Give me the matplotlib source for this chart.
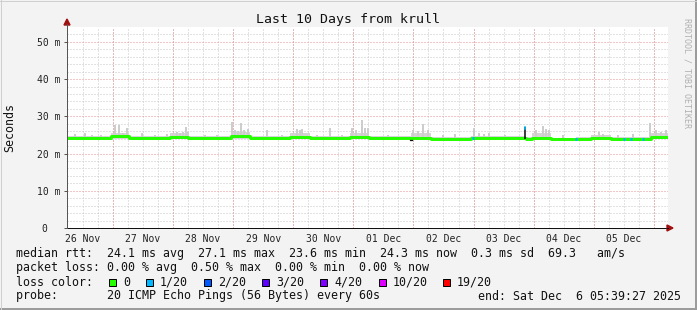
import matplotlib
matplotlib.use('Agg')
import matplotlib.pyplot as plt
from matplotlib.patches import Rectangle, Polygon
import numpy as np

# ---------------- data ----------------
# time axis: hours since start (Wed Nov 26 05:39:27), 10 days = 240 h
day_labels = ["26 Nov", "27 Nov", "28 Nov", "29 Nov", "30 Nov",
              "01 Dec", "02 Dec", "03 Dec", "04 Dec", "05 Dec"]
first_midnight_h = 18.34          # Nov 27 00:00 relative to start
total_hours = 240

# median rtt (ms), step segments: start hour and level
seg_start_h = [0, 1.2, 17.6, 24.8, 41.2, 48.4, 65.6, 73.2, 89.2, 97.2, 113.2,
               120.4, 137.2, 145.2, 161.2, 183.2, 185.6, 193.2, 203.2, 209.2,
               217.2, 233.2]
seg_median_ms = [24.3, 24.1, 24.6, 24.1, 24.4, 24.1, 24.6, 24.1, 24.5, 24.1, 24.5,
                 24.1, 24.3, 24.0, 24.1, 23.9, 24.3, 23.8, 23.9, 24.2,
                 23.9, 24.4]
# smoke band (ms) per segment
seg_smoke_lo = [23.9, 23.6, 24.0, 23.6, 23.9, 23.6, 24.0, 23.6, 24.0, 23.6, 24.0,
                23.6, 23.9, 23.5, 23.6, 23.4, 23.8, 23.3, 23.4, 23.7,
                23.4, 23.9]
seg_smoke_hi = [24.8, 24.6, 25.6, 24.6, 25.6, 24.6, 25.8, 24.6, 25.4, 24.6, 25.6,
                24.6, 25.5, 24.5, 24.7, 24.4, 25.6, 24.3, 24.4, 24.9,
                24.5, 25.4]

# smoke spikes (hour, top ms)
spike_h = [3.0, 7.2, 10.0, 13.6, 19.2, 20.8, 22.4, 24.0, 30.0, 35.0, 40.0,
           44.0, 45.2, 46.4, 47.6, 48.4, 55.0, 60.0, 66.0, 67.2, 68.4, 69.6,
           70.8, 72.4, 80.0, 86.0, 92.0, 93.2, 94.0, 100.0, 105.2, 110.0,
           114.0, 115.6, 118.0, 119.2, 120.0, 128.0, 138.0, 140.0, 142.0,
           144.0, 150.0, 155.0, 162.4, 164.4, 166.4, 168.4, 175.0, 187.2,
           190.0, 191.2, 192.4, 198.0, 212.4, 214.0, 220.0, 226.0, 232.8,
           235.2, 237.2, 239.2]
spike_top = [25.2, 25.4, 25.0, 25.0, 27.7, 27.7, 25.6, 26.8, 25.5, 25.0, 25.3,
             25.9, 25.6, 25.9, 27.2, 25.8, 25.0, 25.1, 28.6, 26.3, 26.0, 28.2,
             26.3, 26.6, 26.2, 25.0, 26.6, 26.2, 26.6, 25.0, 27.0, 25.1,
             26.8, 26.4, 29.0, 26.8, 26.8, 25.0, 26.3, 26.0, 27.9,
             26.3, 25.0, 25.2, 26.9, 25.5, 25.3, 25.5, 25.0, 26.3,
             27.4, 26.5, 26.3, 25.0, 25.9, 25.3, 25.1, 25.2, 28.1,
             26.3, 25.8, 26.3]

# loss-coloured samples (1/20) on the median line
loss_h = [162.0, 203.2, 222.4, 225.2, 230.0]
loss_ms = [24.1, 23.8, 23.9, 23.9, 23.9]
# outlier: median jump (black) at ~03 Dec afternoon
outlier_h = 183.0
outlier_lo, outlier_hi = 24.0, 27.1
dip_h, dip_ms = 137.2, 23.6

y_ticks = [0, 10, 20, 30, 40, 50]
y_tick_labels = ["0\u00a0\u00a0", "10 m", "20 m", "30 m", "40 m", "50 m"]

loss_labels = ["0", "1/20", "2/20", "3/20", "4/20", "10/20", "19/20"]
loss_colors = ["#26ff00", "#00b8ff", "#0059ff", "#5e00ff", "#7e00ff", "#dd00ff", "#ff0000"]

title = "Last 10 Days from krull"
line_rtt = "median rtt:  24.1 ms avg  27.1 ms max  23.6 ms min  24.3 ms now  0.3 ms sd  69.3   am/s"
line_loss = "packet loss: 0.00 % avg  0.50 % max  0.00 % min  0.00 % now"
line_probe = "probe:       20 ICMP Echo Pings (56 Bytes) every 60s"
line_end = "end: Sat Dec  6 05:39:27 2025"

# ---------------- figure ----------------
W, H, DPI = 697, 310, 100
MONO = "DejaVu Sans Mono"
fig = plt.figure(figsize=(W / DPI, H / DPI), dpi=DPI, facecolor="#f3f3f3")
X0, X1, YB, YT = 67, 668, 228, 27


def fx(x):
    return x / W


def fy(y):
    return 1 - y / H


ax = fig.add_axes([fx(X0), fy(YB), (X1 - X0) / W, (YB - YT) / H])
ax.set_facecolor("white")
ax.set_xlim(0, total_hours)
ax.set_ylim(0, 54)

px = 72 / DPI  # one pixel in points
DOT = (0, (1, 2))
GKW = dict(lw=px, ls=DOT, snap=True, antialiased=True)

# grid
mids = np.arange(first_midnight_h, total_hours, 24)
sixes = np.arange(first_midnight_h - 12, total_hours, 6)
for h in sixes:
    if h > 0:
        ax.axvline(h, color="#c6c6c6", zorder=1, **GKW)
for v in np.arange(2, 54, 2):
    if v % 10:
        ax.axhline(v, color="#c6c6c6", zorder=1, **GKW)
for h in mids:
    ax.axvline(h, color="#e89090", zorder=1.5, **GKW)
for v in y_ticks[1:]:
    ax.axhline(v, color="#e89090", zorder=1.5, **GKW)

# smoke band
edges = seg_start_h + [total_hours]
for i in range(len(seg_start_h)):
    ax.fill_between([edges[i], edges[i + 1]], seg_smoke_lo[i], seg_smoke_hi[i],
                    color="#d4d4d4", lw=0, zorder=2)
# smoke spikes
base = np.interp(spike_h, seg_start_h, seg_median_ms)
ax.vlines(spike_h, base, spike_top, color="#cdcdcd", lw=2 * px, zorder=2.2)

# median line
sx = seg_start_h + [total_hours]
sy = seg_median_ms + [seg_median_ms[-1]]
ax.step(sx, sy, where="post", color=loss_colors[0], lw=3 * px, zorder=3,
        solid_capstyle="butt")
for h, v in zip(loss_h, loss_ms):
    ax.plot([h - 0.4, h + 0.4], [v, v], color=loss_colors[1], lw=3 * px,
            zorder=3.5, solid_capstyle="butt")
ax.vlines([outlier_h], outlier_lo, outlier_hi, color="#111111", lw=1.6 * px, zorder=4)
ax.plot([outlier_h, outlier_h], [outlier_hi - 0.5, outlier_hi], color=loss_colors[1],
        lw=1.6 * px, zorder=4.5)
ax.plot([dip_h - 0.4, dip_h + 0.4], [dip_ms, dip_ms], color="#111111", lw=1.2 * px, zorder=4)

# axes
for s in ["top", "right"]:
    ax.spines[s].set_visible(False)
ax.spines["left"].set_color("#555555")
ax.spines["bottom"].set_color("#111111")
ax.spines["left"].set_linewidth(px)
ax.spines["bottom"].set_linewidth(px)

ax.set_yticks(y_ticks)
ax.set_yticklabels(y_tick_labels, fontfamily=MONO, fontsize=7, color="#222222")
ax.tick_params(axis="y", length=2, width=px, pad=3, color="#555555")
noon = first_midnight_h - 12 + 24 * np.arange(len(day_labels))
ax.set_xticks(noon)
ax.set_xticklabels(day_labels, fontfamily=MONO, fontsize=7, color="#222222")
ax.tick_params(axis="x", length=0, pad=4)

# axis arrows
fig.add_artist(Polygon([[fx(64), fy(25)], [fx(70), fy(25)], [fx(67), fy(19)]],
                       closed=True, transform=fig.transFigure, color="#a01010"))
fig.add_artist(plt.Line2D([fx(67), fx(67)], [fy(228), fy(24)], transform=fig.transFigure,
                          color="#555555", lw=px))
fig.add_artist(plt.Line2D([fx(668), fx(667)], [fy(228), fy(228)], transform=fig.transFigure,
                          color="#111111", lw=px))
fig.add_artist(Polygon([[fx(667), fy(225)], [fx(667), fy(231)], [fx(673), fy(228)]],
                       closed=True, transform=fig.transFigure, color="#a01010"))

# texts
fig.text(fx(348), fy(19), title, fontfamily=MONO, fontsize=9.5, ha="center", va="center",
         color="#111111")
fig.text(fx(10), fy(127), "Seconds", fontfamily=MONO, fontsize=8.4, rotation=90,
         ha="center", va="center", color="#111111")
fig.text(fx(687), fy(73), "RRDTOOL / TOBI OETIKER", fontfamily=MONO, fontsize=6,
         rotation=270, ha="center", va="center", color="#b0b0b0")

LX = 16
fs = 8.4
fig.text(fx(LX), fy(254), line_rtt, fontfamily=MONO, fontsize=fs, va="center", color="#111111")
fig.text(fx(LX), fy(268), line_loss, fontfamily=MONO, fontsize=fs, va="center", color="#111111")
fig.text(fx(LX), fy(282), "loss color:", fontfamily=MONO, fontsize=fs, va="center", color="#111111")
fig.text(fx(LX), fy(296), line_probe, fontfamily=MONO, fontsize=fs, va="center", color="#111111")
fig.text(fx(478), fy(296), line_end, fontfamily=MONO, fontsize=fs, va="center", color="#111111")

sq_x = [109, 146, 204, 262, 320, 379, 443]
for x, lab, c in zip(sq_x, loss_labels, loss_colors):
    fig.add_artist(Rectangle((fx(x), fy(286)), 7 / W, 7 / H, transform=fig.transFigure,
                             facecolor=c, edgecolor="black", lw=px))
    fig.text(fx(x + 14), fy(282), lab, fontfamily=MONO, fontsize=fs, va="center",
             color="#111111")

# canvas border
fig.add_artist(plt.Line2D([0, 1], [fy(308.5), fy(308.5)], transform=fig.transFigure,
                          color="#9c9c9c", lw=2 * px))
fig.add_artist(plt.Line2D([fx(695.5), fx(695.5)], [0, 1], transform=fig.transFigure,
                          color="#9c9c9c", lw=2 * px))
fig.add_artist(plt.Line2D([0, 1], [fy(0.5), fy(0.5)], transform=fig.transFigure,
                          color="#d0d0d0", lw=px))
fig.add_artist(plt.Line2D([fx(0.5), fx(0.5)], [0, 1], transform=fig.transFigure,
                          color="#d0d0d0", lw=px))

fig.savefig("out.png", dpi=DPI, facecolor=fig.get_facecolor())
